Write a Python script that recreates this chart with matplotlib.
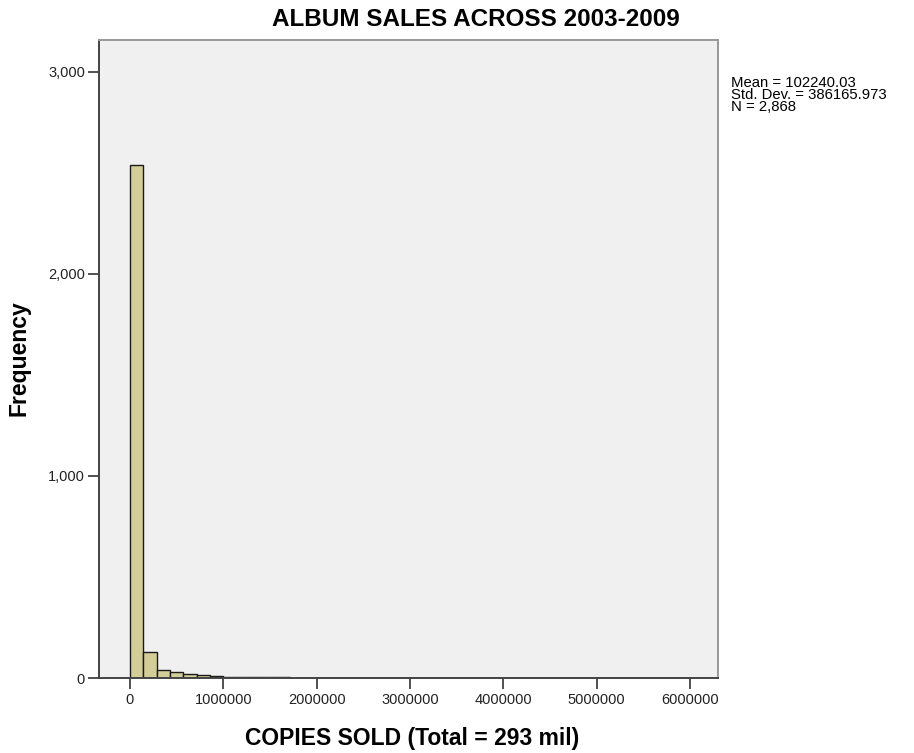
import numpy as np
import matplotlib
matplotlib.use('Agg')
import matplotlib.pyplot as plt
import matplotlib.ticker as ticker

plt.rcParams['font.family'] = ['Liberation Sans', 'DejaVu Sans']

# ================= 数据 =================
BIN_WIDTH = 1000000 / 7
counts = [2540, 131, 40, 31, 20, 16, 9, 7, 6, 4, 3, 3, 2, 2, 1, 1, 2, 2, 1, 2, 2,
          1, 0, 1, 1, 0, 1, 0, 0, 1, 0, 0, 1, 1, 0, 0, 0, 0, 0, 0, 0, 1]
x_ticks = [0, 1000000, 2000000, 3000000, 4000000, 5000000, 6000000]
y_ticks = [0, 1000, 2000, 3000]
title = 'ALBUM SALES ACROSS 2003-2009'
x_label = 'COPIES SOLD (Total = 293 mil)'
y_label = 'Frequency'
stats_text = 'Mean = 102240.03\nStd. Dev. = 386165.973\nN = 2,868'

# ================= 绘图 =================
fig = plt.figure(figsize=(9.14, 7.53), dpi=100)
ax = fig.add_axes([99 / 914, 1 - 678 / 753, (718 - 99) / 914, (678 - 40) / 753])
ax.set_facecolor('#f0f0f0')

left_edges = np.arange(len(counts)) * BIN_WIDTH
ax.bar(left_edges, counts, width=BIN_WIDTH, align='edge',
       color='#d3ce97', edgecolor='#1a1a1a', linewidth=1.0, zorder=2)

ax.set_xlim(-332000, 6300000)
ax.set_ylim(0, 3157)
ax.set_xticks(x_ticks)
ax.set_yticks(y_ticks)
ax.xaxis.set_major_formatter(ticker.FuncFormatter(lambda v, p: f'{int(v)}'))
ax.yaxis.set_major_formatter(ticker.FuncFormatter(lambda v, p: f'{int(v):,}'))
ax.tick_params(axis='both', length=8, width=1.2, color='#333333',
               labelsize=10.5, labelcolor='#222222', pad=2)
ax.tick_params(axis='x', pad=3)

for side in ['left', 'bottom']:
    ax.spines[side].set_color('#444444')
    ax.spines[side].set_linewidth(1.4)
for side in ['top', 'right']:
    ax.spines[side].set_color('#999999')
    ax.spines[side].set_linewidth(1.4)

fig.text(476 / 914, 1 - 20 / 753, title, ha='center', va='center',
         fontsize=17.5, fontweight='bold')
fig.text(412 / 914, 1 - 739 / 753, x_label, ha='center', va='center',
         fontsize=16.5, fontweight='bold')
fig.text(19 / 914, 1 - 358 / 753, y_label, ha='center', va='center',
         rotation=90, fontsize=16.5, fontweight='bold')
fig.text(731 / 914, 1 - 76 / 753, stats_text, ha='left', va='top',
         fontsize=10.7, linespacing=0.8)

plt.savefig('out.png', dpi=100, facecolor='white')
